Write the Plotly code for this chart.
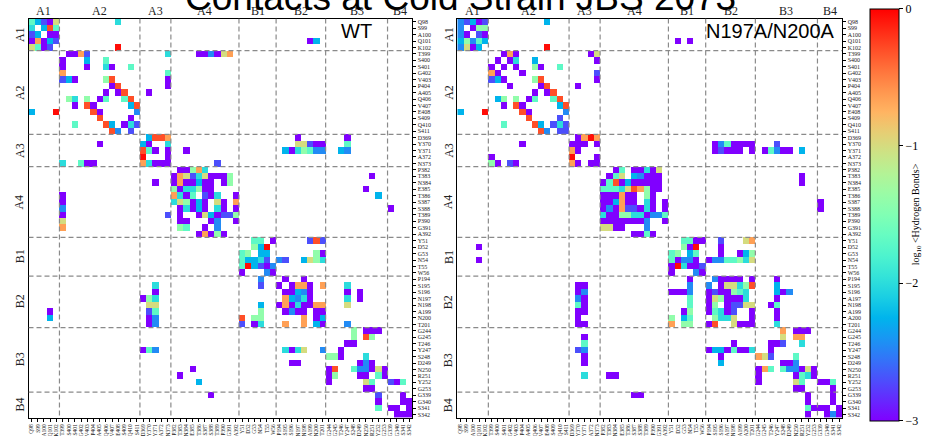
import numpy as np
import plotly.graph_objects as go

# Structural blocks and their residue counts (rows/columns in this order)
BLOCKS = ["A1", "A2", "A3", "A4", "B1", "B2", "B3", "B4"]
BLOCK_SIZES = [5, 13, 5, 11, 6, 8, 10, 4]

RESIDUES_WT = [
    "Q98", "S99", "A100", "Q101", "K102",
    "T399", "S400", "S401", "G402", "V403", "P404", "A405", "Q406", "V407", "E408", "S409", "Q410", "S411",
    "D369", "Y370", "Y371", "A372", "N373",
    "P382", "T383", "N384", "E385", "T386", "S387", "S388", "T389", "P390", "G391", "A392",
    "Y51", "D52", "G53", "N54", "T55", "W56",
    "P194", "S195", "S196", "N197", "N198", "A199", "N200", "T201",
    "G244", "G245", "T246", "Y247", "S248", "D249", "N250", "R251", "Y252", "G253",
    "G339", "G340", "S341", "S342",
]
RESIDUES_MUT = [("A197" if r == "N197" else "A200" if r == "N200" else r) for r in RESIDUES_WT]

# log10 <hydrogen bonds> levels used in the cell tables below
LEVELS = {"P": -3.0, "V": -2.7, "B": -2.45, "S": -2.25, "C": -2.0, "M": -1.7,
          "G": -1.4, "K": -1.0, "O": -0.65, "R": -0.3, "X": -0.05}

# One entry per row residue: "<column index><level>" tokens for the non-empty cells
WT_ROWS = [
    "0M 1S 2V 3P 4K 14C",
    "0C 2S 3R 4M",
    "0V 1S 3P 4P",
    "0P 1O 2P 3S 4V 45P 46S",
    "0K 1M 2P 3V 14X",
    "6P 7P 8O 9V 22C 27P 28P 29B 30P 31K 32O",
    "5P 9S 12M",
    "5P 9P 12C 13P 16M",
    "5O 22M",
    "5V 6S 7P 12G 13R 22P",
    "13P 14R 22P",
    "12P 14P 15R 19P",
    "6G 7C 9G 11P 12M 15M 16R",
    "7P 9R 10P 16S 17R",
    "0S 4X 10R 11P 17B",
    "11R 16P",
    "7M 12R 13S 15P 16C 17V",
    "13R 14B 16V",
    "19S 20R 21R 22O 43P 51P",
    "11P 18S 19P 22C 43K 44K 45V 46P 47P 51M",
    "18R 19M 20P 22P 25P 41S 42P 43C 44G 45M 46B 47B 50S 51B",
    "18X 22P",
    "5C 8M 9P 10P 18O 19C 20P 21P 22P 30V",
    "24P 25P 26G 27O 28C",
    "23P 24O 25K 26V 27C 28K 29P 30P 31P 32G 55P",
    "20P 23P 24O 25P 26P 27S 28P 29P 31P 32G",
    "23G 24P 25C 26C 27G 28P 29P 54P",
    "5P 23O 24C 25P 26M 28V 29P 30C 33P 56S",
    "5P 23C 24K 25G 26P 27S 28P 30K 31P 33O",
    "5B 24P 25C 26P 27S 28P 30C 31P 33P 58P",
    "5P 22V 24P 27P 28K 29S 30P 31V 32V 33G",
    "5K 24P 25P 29P 30B 33P",
    "5O 24G 25M 28P 30B",
    "27P 28O 29P 30G 31P",
    "36M 37M 39P 45V 46R 47V",
    "36G 37S 38X",
    "34M 35G 37S 38S 46G 47P",
    "34M 35S 36S 37C 38V 40B 41V 44S 45K 46G 47C",
    "34M 35X 36S 37V 38P 39B",
    "34P 38B 39P",
    "37B 41P 44P",
    "20C 37V 40P 42P 43O 44O 45P 47O 51C",
    "20P 41P 42P 43S 44B 45P 51P 53P",
    "18P 19G 20C 41O 42S 43B 44C 45P 51C 53P",
    "19K 20K 37S 40P 41O 42P 43C 44P 45P 46O 47O 51K",
    "3P 19V 20M 37G 41P 42B 43P 44P 46P 47P",
    "3S 19P 20B 34R 36G 37G 44O 46P 47S",
    "19P 20B 34V 36P 37C 41O 44O 46S 47P 51B",
    "52G 54P 55P 56P",
    "52G 54R 55G",
    "51P 52P",
    "18P 19M 20B 41C 42P 43C 44K 47B 50P",
    "48G 49G 50P 54C",
    "42P 43P 53P 54B 55P",
    "26P 48P 49R 52M 53B 54B 55P 56K 57P",
    "24P 48P 49G 53P 54P 56M 57P",
    "27S 48P 54K 55M 58V 59P 60M",
    "54P 55P",
    "29P 56V 60P",
    "56P 60P 61P",
    "56M 58P 59P 61P",
    "59P 60P 61P",
]

MUT_ROWS = [
    "0B 1V 2S 3P 4V 14S",
    "0B 2P 3G 4G",
    "0B 1P 3V 4P",
    "0S 1G 2B 3M 4S 35P 37P",
    "0B 1K 2P 3S 14X",
    "7P 8O 9P 21P 22K",
    "6P 8P 9C 12S 22P",
    "5P 7P 9P 12G 13P 16M",
    "5O 6P 10P 22V",
    "5V 6S 7P 12G 13R 22P",
    "8P 13P 14R 19P",
    "12P 14P 15R",
    "6S 7G 9G 11P 12M 15M 16R",
    "7P 9R 10P 16S 17R",
    "0S 4X 10R 11P 17B",
    "11R 16V",
    "7M 12R 13S 15V 16C 17V",
    "13R 14B 16V 17V",
    "19P 20O 21X 22O",
    "10P 18P 19P 20P 22P 41P 42B 43M 44P 45P 46P 47P 51V",
    "18O 19P 41P 42V 43P 44P 45P 47P 49P 50M 51B 52P 53P 55S",
    "5P 18X 22P",
    "5G 6P 8V 9P 18O 19P 21P 22P",
    "25P 26M 28P 29P 30C 31P 32K",
    "24P 25M 26K 28S 29B 30P 31P 32P 55P",
    "23P 24M 25R 26P 27S 28P 29P 30P 31P 32P 55P",
    "23M 24M 25M 26C 27K 28R 29O 30G 31P 32P",
    "23P 24P 25P 26O 27P 28P 30G 31P",
    "23P 24P 25S 26O 27P 28P 30C 31P 33P 58P",
    "23P 24B 25P 26O 27V 28V 29P 30C 31P 33P 58P",
    "23C 24P 25P 26G 27G 28C 29C 30P 31B 32B 33M",
    "23P 24P 25P 26P 27P 28P 29P 30B 33P",
    "23K 24K 25P 26P 30B",
    "28P 29P 30M 31P",
    "36M 37M 38P 39P 42V 46K 47O",
    "3P 36G 37P 38X 42P",
    "34M 35G 37S 38M 42P 45P 46S 47G",
    "3P 34M 35P 36B 37B 38P 40P 41B 42B 43M 44M 45G 46C 47K",
    "34P 35X 36C 37P 38P 39V",
    "34P 38B 39P",
    "37P 41B 42P 43P 44P 45P 47P 51P",
    "19P 20P 37B 40B 42P 43K 44K 45C 46G 47R 51S",
    "19P 20B 34P 35P 36P 37B 40P 41V 42P 43P 44G 45M 46C 51S 52P 53B",
    "19B 20P 37M 40P 41K 42G 43P 44P 45P 46C 51P",
    "19M 20P 37M 40P 41G 43P 44V 45V 46K 47K 50P 51M",
    "19P 20P 36P 37G 40P 41M 42C 43P 44V 47P 51P",
    "19P 34G 36S 37M 41G 42C 43C 44K 47P 51P",
    "19P 20P 34O 36G 37G 40P 41R 44K 45P 46P 47P 51C",
    "52O 54P 55P 56P",
    "20P 52K 54O 55O",
    "20M 44P 50P 51P 52V 55C",
    "19V 20B 40P 41S 42S 43P 44M 45P 46P 47C 50P",
    "20P 42P 48O 49K 50V 54M",
    "20P 42S 52P 53P 54B",
    "48P 49O 50M 52M 53B 54B 55P 56K 57P",
    "20C 24P 25P 48P 54P 55M 56C 57P",
    "48P 54K 55M 58P 59P 60M",
    "54P 55P 60P",
    "28P 29P 56P 60P",
    "56P 60P",
    "56M 57P 58P 59P 61P",
    "56P 59P 60B 61P",
]


def build_matrix(rows, n):
    z = np.full((n, n), np.nan)
    for i, row in enumerate(rows):
        for tok in row.split():
            z[i, int(tok[:-1])] = LEVELS[tok[-1]]
    return z


def rainbow_scale(n=21):
    # matplotlib-style "rainbow" colormap
    stops = []
    for t in np.linspace(0, 1, n):
        r = min(1.0, abs(2 * t - 0.5))
        g = np.sin(np.pi * t)
        b = np.cos(np.pi * t / 2)
        stops.append([float(t), f"rgb({int(round(r*255))},{int(round(g*255))},{int(round(b*255))})"])
    return stops


N = len(RESIDUES_WT)
idx = list(range(N))
z_wt = build_matrix(WT_ROWS, N)
z_mut = build_matrix(MUT_ROWS, N)

SERIF = "Liberation Serif, DejaVu Serif, serif"
SANS = "Liberation Sans, Arial, sans-serif"
W, H = 928, 436

scale = rainbow_scale()
fig = go.Figure()
fig.add_trace(go.Heatmap(z=z_wt, x=idx, y=idx, xaxis="x", yaxis="y", colorscale=scale,
                         zmin=-3, zmax=0, showscale=False, hoverongaps=False))
fig.add_trace(go.Heatmap(
    z=z_mut, x=idx, y=idx, xaxis="x2", yaxis="y2", colorscale=scale,
    zmin=-3, zmax=0, hoverongaps=False,
    colorbar=dict(
        x=870 / W, xanchor="left", y=1 - 214.5 / H, yanchor="middle",
        len=412 / H, lenmode="fraction", thickness=29, thicknessmode="pixels",
        xpad=0, ypad=0, outlinewidth=1, outlinecolor="black",
        tickvals=[0, -1, -2, -3], ticktext=["0", "\u22121", "\u22122", "\u22123"],
        ticks="outside", ticklen=4, tickcolor="black",
        tickfont=dict(family=SERIF, size=12, color="black"),
        title=dict(text="log<sub>10</sub> &lt;Hydrogen Bonds&gt;", side="right",
                   font=dict(family=SERIF, size=10, color="black")),
    ),
))

x_domains = [[28.5 / W, 412.3 / W], [457.3 / W, 842.3 / W]]
y_domain = [1 - 417.8 / H, 1 - 18.5 / H]

for k, (xd, labels) in enumerate(zip(x_domains, [RESIDUES_WT, RESIDUES_MUT])):
    sfx = "" if k == 0 else "2"
    fig.layout["xaxis" + sfx] = dict(
        domain=xd, anchor="y" + sfx, range=[-0.5, N - 0.5],
        tickvals=idx, ticktext=labels, tickangle=-90,
        tickfont=dict(family=SERIF, size=5.5, color="#222"),
        ticks="outside", ticklen=3, tickcolor="black", tickwidth=0.8,
        showline=True, mirror=True, linecolor="black", linewidth=1.3,
        showgrid=False, zeroline=False, fixedrange=True,
    )
    fig.layout["yaxis" + sfx] = dict(
        domain=y_domain, anchor="x" + sfx, range=[N - 0.5, -0.5], side="right",
        tickvals=idx, ticktext=labels,
        tickfont=dict(family=SERIF, size=6, color="#222"),
        ticks="outside", ticklen=3, tickcolor="black", tickwidth=0.8,
        showline=True, mirror=True, linecolor="black", linewidth=1.3,
        showgrid=False, zeroline=False, fixedrange=True,
    )

# Block boundaries and block labels
bounds = np.cumsum(BLOCK_SIZES)[:-1] - 0.5
starts = np.concatenate([[0], np.cumsum(BLOCK_SIZES)[:-1]])
centers = starts + (np.array(BLOCK_SIZES) - 1) / 2

shapes = []
annotations = []
for k in range(2):
    xr = "x" if k == 0 else "x2"
    yr = "y" if k == 0 else "y2"
    for b in bounds:
        shapes.append(dict(type="line", xref=xr, yref=yr, x0=b, x1=b, y0=-0.5, y1=N - 0.5,
                           line=dict(color="#8a8a8a", width=1.2, dash="5px,3px")))
        shapes.append(dict(type="line", xref=xr, yref=yr, y0=b, y1=b, x0=-0.5, x1=N - 0.5,
                           line=dict(color="#8a8a8a", width=1.2, dash="5px,3px")))
    left_px = x_domains[k][0] * W - 9
    for name, c in zip(BLOCKS, centers):
        annotations.append(dict(text=name, xref=xr, yref="paper", x=c, y=1 - 11 / H,
                                xanchor="center", yanchor="middle", showarrow=False,
                                font=dict(family=SERIF, size=12, color="#222")))
        annotations.append(dict(text=name, xref="paper", yref=yr, x=left_px / W, y=c,
                                xanchor="center", yanchor="middle", showarrow=False, textangle=-90,
                                font=dict(family=SERIF, size=12, color="#222")))

annotations.append(dict(text="WT", xref="paper", yref="paper", x=374 / W, y=1 - 31 / H,
                        xanchor="right", yanchor="middle", showarrow=False,
                        font=dict(family=SANS, size=20, color="black")))
annotations.append(dict(text="N197A/N200A", xref="paper", yref="paper", x=837 / W, y=1 - 31 / H,
                        xanchor="right", yanchor="middle", showarrow=False,
                        font=dict(family=SANS, size=20, color="black")))
# Figure title sits mostly above the top edge of the page
annotations.append(dict(text="Contacts at Cold Strain JBS 2073", xref="paper", yref="paper",
                        x=460 / W, y=1 + 2 / H, xanchor="center", yanchor="middle", showarrow=False,
                        font=dict(family=SANS, size=37, color="black")))

fig.update_layout(
    width=W, height=H, margin=dict(l=0, r=0, t=0, b=0),
    paper_bgcolor="white", plot_bgcolor="white",
    shapes=shapes, annotations=annotations, showlegend=False,
)

fig.write_html("out.html")
